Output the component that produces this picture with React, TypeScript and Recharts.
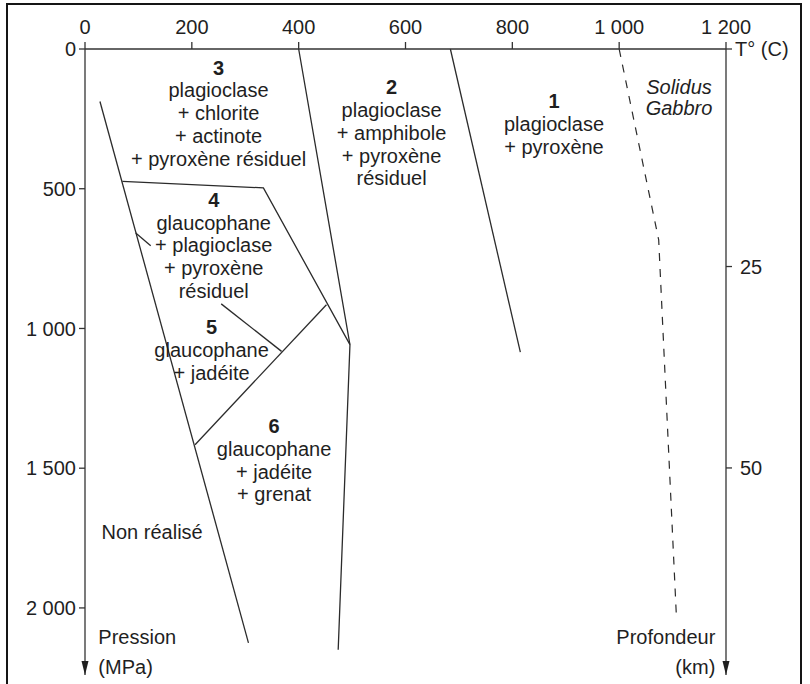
import { LineChart, Line, XAxis, YAxis, ReferenceDot } from "recharts";

const FONT = '"Liberation Sans", Arial, Helvetica, sans-serif';
const INK = "#1f1f1f";

// axes
const TEMP_TICKS = [0, 200, 400, 600, 800, 1000, 1200];
const PRESSURE_TICKS = [0, 500, 1000, 1500, 2000];
const PRESSURE_MAX = 2240;
const DEPTH_TICKS = [-2, 25, 50];
const DEPTH_DOMAIN = [-2, 75.7];

// boundaries, t = °C, p = MPa
const BOUNDARY_2_3 = [
  { t: 400, p: 0 },
  { t: 496, p: 1058 },
  { t: 474, p: 2150 },
];
const BOUNDARY_1_2 = [
  { t: 684, p: 0 },
  { t: 815, p: 1085 },
];
const LOWER_LIMIT = [
  { t: 28, p: 188 },
  { t: 306, p: 2125 },
];
const BOUNDARY_3_4 = [
  { t: 70, p: 474 },
  { t: 334, p: 497 },
  { t: 496, p: 1058 },
];
const BOUNDARY_5_6 = [
  { t: 206, p: 1416 },
  { t: 452, p: 915 },
];
const BOUNDARY_4_5 = [
  { t: 255, p: 912 },
  { t: 368, p: 1082 },
];
const LEADER_4 = [
  { t: 95, p: 658 },
  { t: 123, p: 704 },
];
const SOLIDUS = [
  { t: 1000, p: 0 },
  { t: 1074, p: 683 },
  { t: 1107, p: 2025 },
];

const FIELDS = [
  { id: "1", t: 878, p: 187, lines: ["plagioclase", "+ pyroxène"] },
  { id: "2", t: 574, p: 136, lines: ["plagioclase", "+ amphibole", "+ pyroxène", "résiduel"] },
  { id: "3", t: 250, p: 66, lines: ["plagioclase", "+ chlorite", "+ actinote", "+ pyroxène résiduel"] },
  { id: "4", t: 241, p: 539, lines: ["glaucophane", "+ plagioclase", "+ pyroxène", "résiduel"] },
  { id: "5", t: 237, p: 994, lines: ["glaucophane", "+ jadéite"] },
  { id: "6", t: 354, p: 1348, lines: ["glaucophane", "+ jadéite", "+ grenat"] },
];

const fmt = (v: number) => String(v).replace(/\B(?=(\d{3})+(?!\d))/g, " ");

function block(lines: string[], opts: { title?: string; anchor?: string; step?: number; italic?: boolean; dx?: number }) {
  const { title, anchor = "middle", step = 22.8, italic = false, dx = 0 } = opts;
  return (props: any) => {
    const { cx, cy } = props;
    const all = title ? [title, ...lines] : lines;
    return (
      <g>
        {all.map((s, i) => (
          <text
            key={i}
            x={cx + dx}
            y={cy + i * step}
            dy="0.36em"
            textAnchor={anchor as any}
            fontFamily={FONT}
            fontSize={20}
            fontWeight={title && i === 0 ? 700 : 400}
            fontStyle={italic ? "italic" : "normal"}
            fill={INK}
          >
            {s}
          </text>
        ))}
      </g>
    );
  };
}

const arrow = (props: any) => {
  const { cx, cy } = props;
  return <path d={`M${cx - 3.5},${cy - 14} L${cx + 3.5},${cy - 14} L${cx},${cy} Z`} fill={INK} />;
};

const lineProps = {
  type: "linear" as const,
  dataKey: "p",
  yAxisId: "p",
  stroke: "#2b2b2b",
  strokeWidth: 1.3,
  dot: false,
  activeDot: false,
  isAnimationActive: false,
  legendType: "none" as const,
};

// invisible series so the depth axis has data of its own
const depthAnchor = DEPTH_TICKS.map((d) => ({ t: 1200, d }));

export default function App() {
  return (
    <div style={{ position: "absolute", left: 0, top: 0, width: 810, height: 684, overflow: "hidden", background: "#fff" }}>
      <div
        style={{
          position: "absolute",
          left: 6,
          top: 3,
          width: 792,
          height: 700,
          border: "2px solid #151515",
          borderBottom: "none",
        }}
      />
      <div style={{ position: "absolute", left: 0, top: 0 }}>
        <LineChart width={810} height={684} margin={{ top: 19, right: 0, bottom: 9, left: 0 }}>
          <XAxis
            xAxisId={0}
            orientation="top"
            type="number"
            dataKey="t"
            domain={[0, 1200]}
            ticks={TEMP_TICKS}
            tickFormatter={fmt}
            height={30}
            tickSize={7}
            tickMargin={8}
            axisLine={{ stroke: "#333", strokeWidth: 1.3 }}
            tickLine={{ stroke: "#333", strokeWidth: 1.3 }}
            tick={{ fill: INK, fontSize: 20, fontFamily: FONT }}
          />
          <YAxis
            yAxisId="p"
            type="number"
            reversed
            domain={[0, PRESSURE_MAX]}
            ticks={PRESSURE_TICKS}
            tickFormatter={fmt}
            width={85}
            tickSize={6}
            tickMargin={3}
            axisLine={{ stroke: "#333", strokeWidth: 1.3 }}
            tickLine={{ stroke: "#333", strokeWidth: 1.3 }}
            tick={{ fill: INK, fontSize: 20, fontFamily: FONT }}
          />
          <YAxis
            yAxisId="d"
            orientation="right"
            type="number"
            reversed
            domain={DEPTH_DOMAIN}
            allowDataOverflow
            ticks={DEPTH_TICKS}
            interval={0}
            tickFormatter={(v: number) => (v < 0 ? "" : String(v))}
            width={84}
            tickSize={6}
            tickMargin={8}
            axisLine={{ stroke: "#333", strokeWidth: 1.3 }}
            tickLine={{ stroke: "#333", strokeWidth: 1.3 }}
            tick={{ fill: INK, fontSize: 20, fontFamily: FONT }}
          />

          <Line {...lineProps} data={depthAnchor} dataKey="d" yAxisId="d" stroke="none" strokeWidth={0} />

          <Line {...lineProps} data={BOUNDARY_2_3} />
          <Line {...lineProps} data={BOUNDARY_1_2} />
          <Line {...lineProps} data={LOWER_LIMIT} />
          <Line {...lineProps} data={BOUNDARY_3_4} />
          <Line {...lineProps} data={BOUNDARY_5_6} />
          <Line {...lineProps} data={BOUNDARY_4_5} />
          <Line {...lineProps} data={LEADER_4} />
          <Line {...lineProps} data={SOLIDUS} strokeWidth={1.2} strokeDasharray="8 8" />

          {FIELDS.map((f) => (
            <ReferenceDot key={f.id} yAxisId="p" x={f.t} y={f.p} r={0} shape={block(f.lines, { title: f.id })} />
          ))}
          <ReferenceDot yAxisId="p" x={1112} y={136} r={0} shape={block(["Solidus", "Gabbro"], { italic: true, step: 21 })} />
          <ReferenceDot yAxisId="p" x={31} y={1726} r={0} shape={block(["Non réalisé"], { anchor: "start" })} />
          <ReferenceDot yAxisId="p" x={25} y={2102} r={0} shape={block(["Pression", "(MPa)"], { anchor: "start", step: 30 })} />
          <ReferenceDot yAxisId="p" x={1180} y={2102} r={0} shape={block(["Profondeur", "(km)"], { anchor: "end", step: 30 })} />
          <ReferenceDot yAxisId="p" x={1200} y={0} r={0} shape={block(["T° (C)"], { anchor: "start", dx: 9 })} />
          <ReferenceDot yAxisId="p" x={0} y={PRESSURE_MAX} r={0} shape={arrow} />
          <ReferenceDot yAxisId="p" x={1200} y={PRESSURE_MAX} r={0} shape={arrow} />
        </LineChart>
      </div>
    </div>
  );
}
